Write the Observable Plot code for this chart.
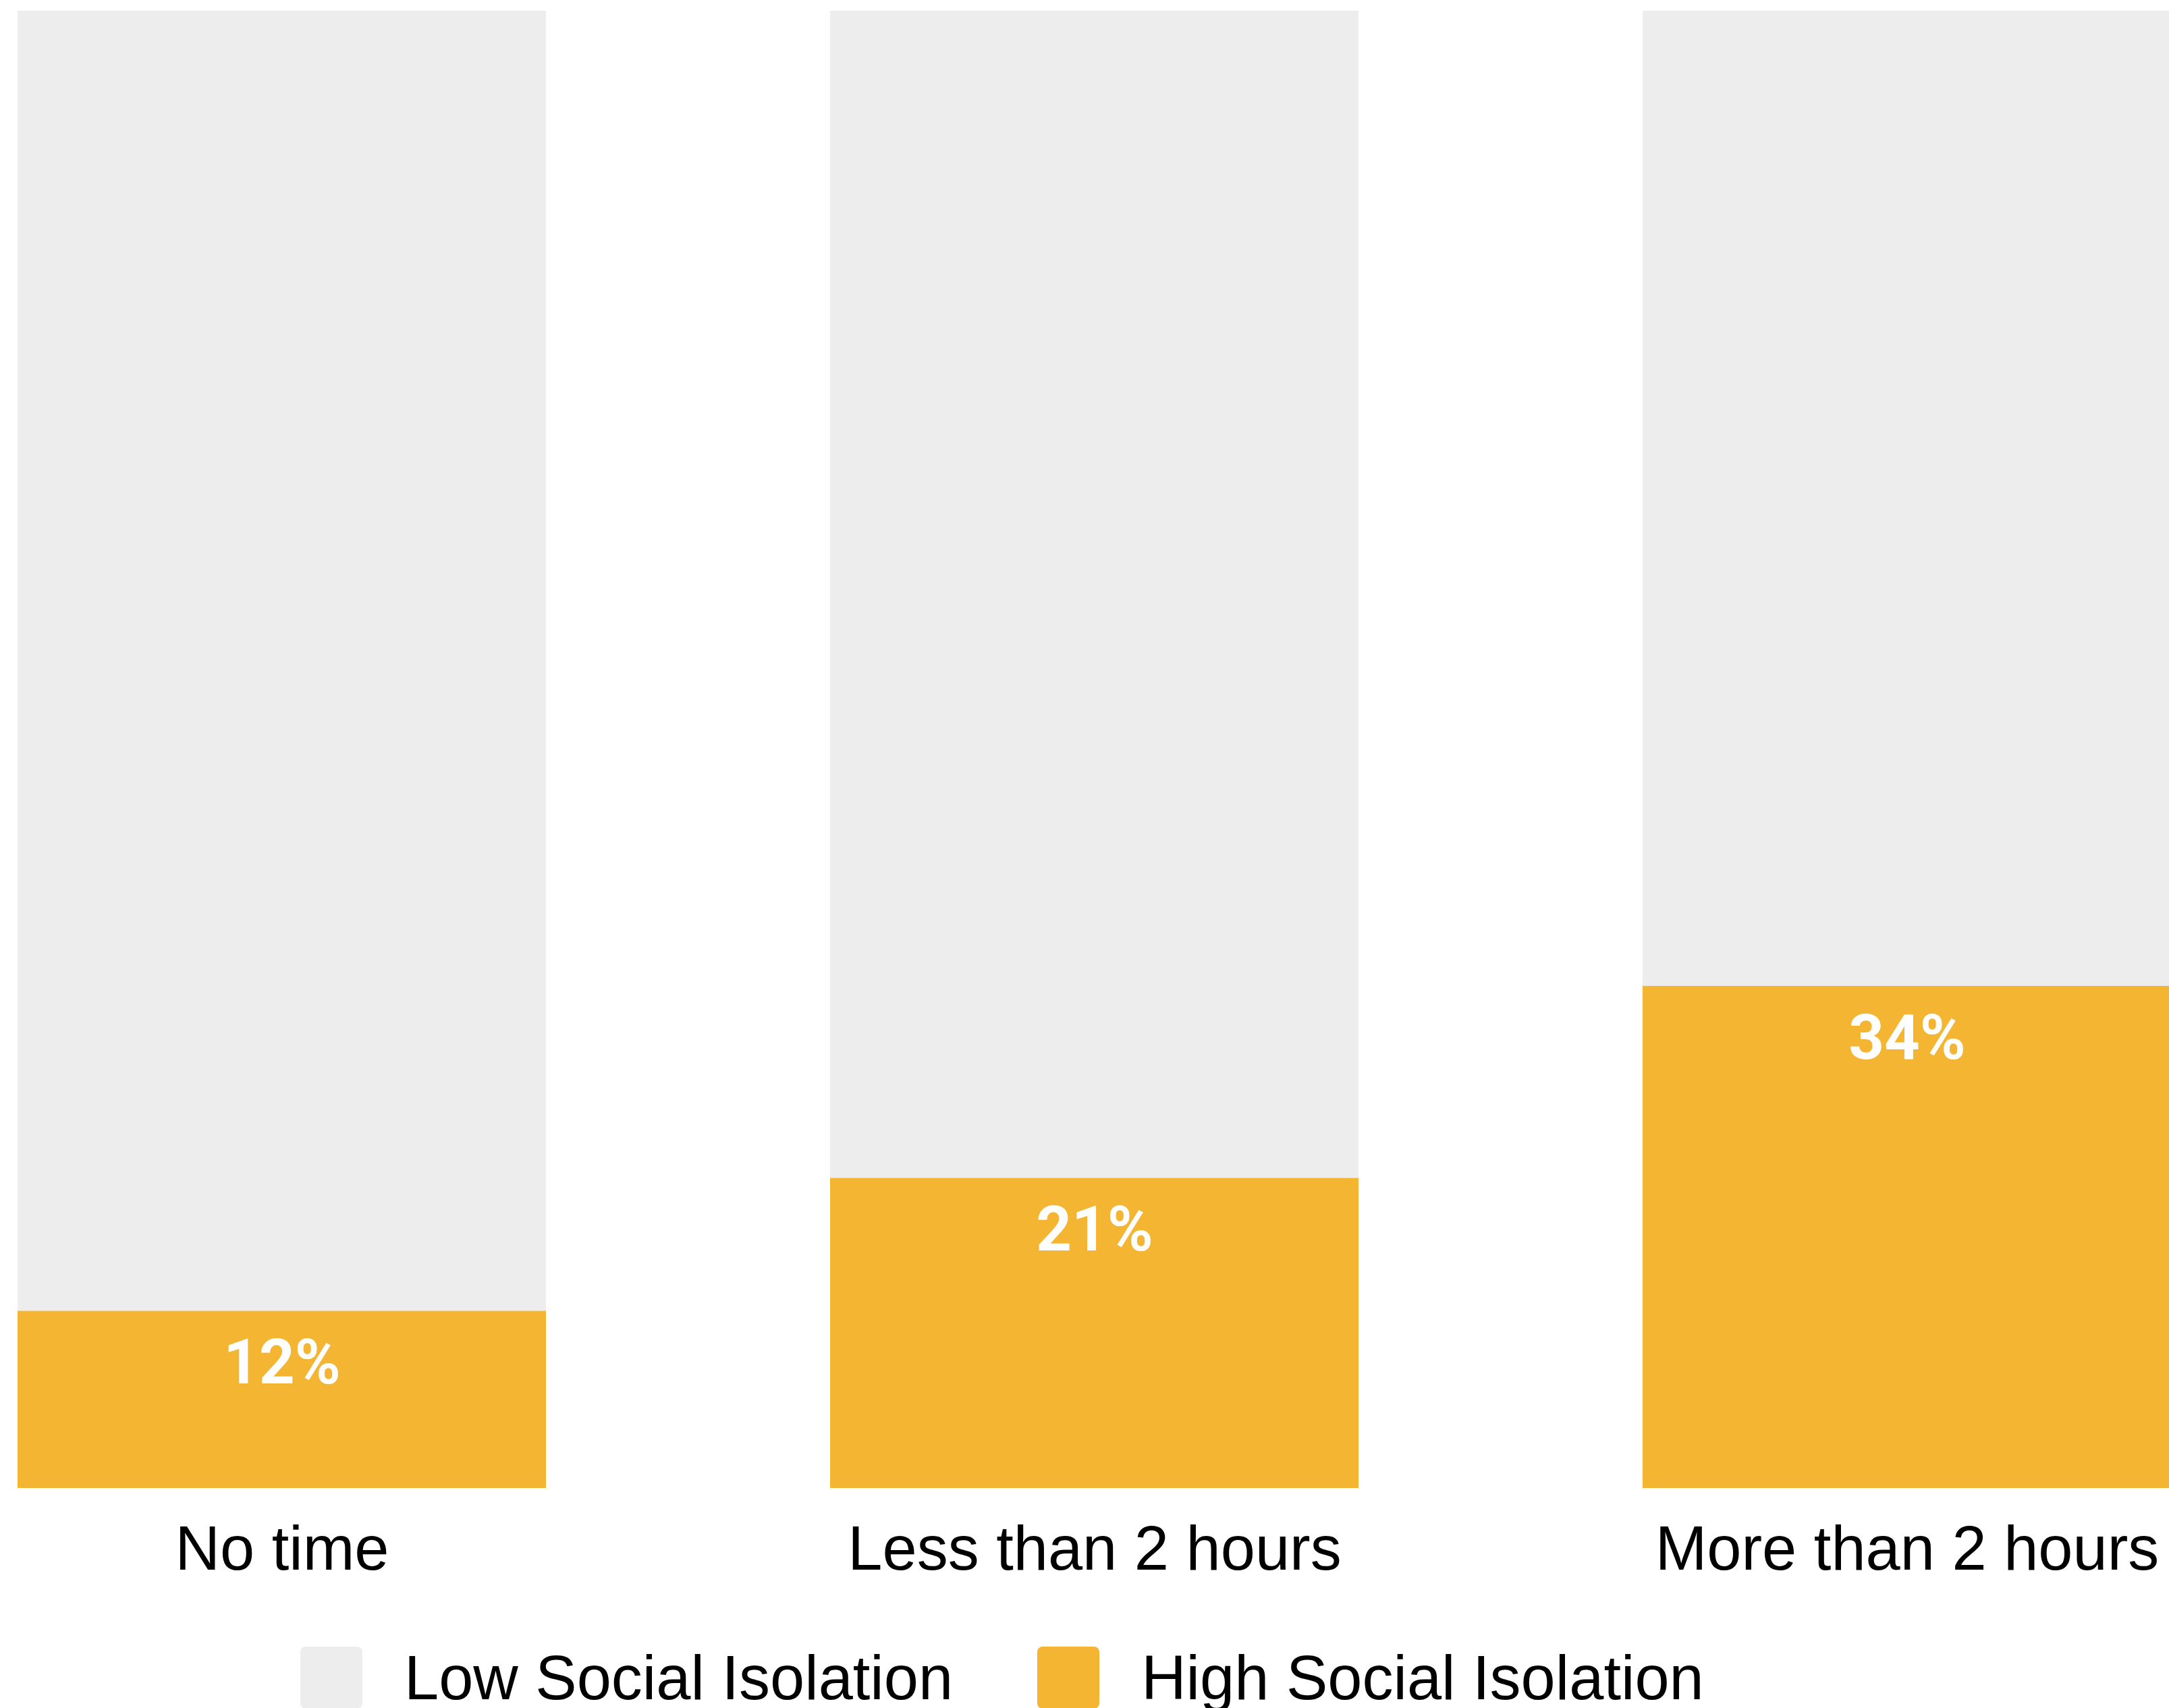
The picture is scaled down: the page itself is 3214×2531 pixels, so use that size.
<!DOCTYPE html>
<html>
<head>
<meta charset="utf-8">
<script src="https://cdn.jsdelivr.net/npm/d3@7"></script>
<script src="https://cdn.jsdelivr.net/npm/@observablehq/plot@0.6"></script>
<style>
  html, body { margin: 0; padding: 0; background: #fff; overflow: hidden; }
  #chart svg { display: block; }
  .legend { display: flex; align-items: center; margin-top: 20px; margin-left: 445px; height: 92px;
            font-family: "Liberation Sans", Arial, sans-serif; font-size: 92px; color: #000; }
  .legend .sw { width: 92px; height: 92px; border-radius: 8px; margin-right: 62px; flex: none; }
  .legend .item { display: flex; align-items: center; white-space: nowrap; }
  .legend .item + .item { margin-left: 125px; }
</style>
</head>
<body>
<div id="chart"></div>
<script>
const categories = ["No time", "Less than 2 hours", "More than 2 hours"];
const groups = ["High Social Isolation", "Low Social Isolation"];
const highValues = [12, 21, 34];
const lowValues = [88, 79, 66];
const colors = ["#F3B532", "#EDEDED"];
const legendOrder = ["Low Social Isolation", "High Social Isolation"];

const rows = [];
categories.forEach((c, i) => {
  rows.push({category: c, group: groups[0], value: highValues[i]});
  rows.push({category: c, group: groups[1], value: lowValues[i]});
});
const labels = categories.map((c, i) => ({category: c, value: highValues[i], text: highValues[i] + "%"}));

const chart = Plot.plot({
  width: 3214,
  height: 2420,
  marginTop: 16,
  marginBottom: 215,
  marginLeft: 0,
  marginRight: 0,
  style: {fontFamily: "Liberation Sans, Arial, sans-serif", fontSize: "92px", color: "#000", background: "#fff"},
  x: {domain: categories, range: [25, 3218], paddingInner: 0.35, paddingOuter: 0, axis: null},
  y: {domain: [0, 100], axis: null},
  color: {domain: groups, range: colors},
  marks: [
    Plot.barY(rows, {x: "category", y: "value", fill: "group", order: groups}),
    Plot.text(labels, {x: "category", y: "value", text: "text", dy: 78, fill: "#fff",
      fontFamily: "Roboto, sans-serif", fontWeight: "bold", fontSize: 92}),
    Plot.axisX({tickSize: 0, tickPadding: 55, fontSize: 92, label: null})
  ]
});
document.getElementById("chart").appendChild(chart);

const legend = document.createElement("div");
legend.className = "legend";
legendOrder.forEach(g => {
  const item = document.createElement("div");
  item.className = "item";
  const sw = document.createElement("span");
  sw.className = "sw";
  sw.style.background = colors[groups.indexOf(g)];
  const t = document.createElement("span");
  t.textContent = g;
  item.appendChild(sw);
  item.appendChild(t);
  legend.appendChild(item);
});
document.getElementById("chart").appendChild(legend);
</script>
</body>
</html>
